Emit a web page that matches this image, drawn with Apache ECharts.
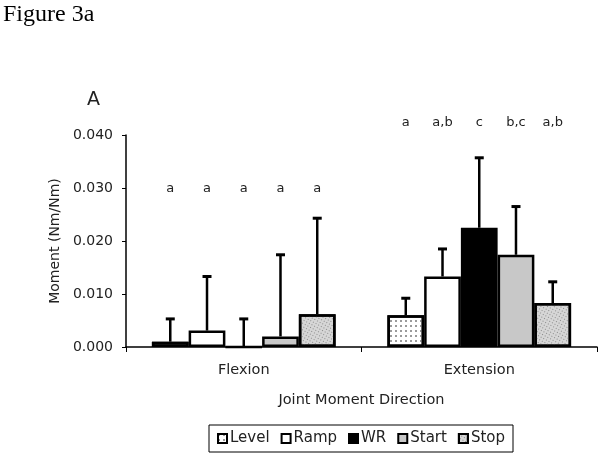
<!DOCTYPE html>
<html>
<head>
<meta charset="utf-8">
<script src="https://cdn.jsdelivr.net/npm/echarts@6/dist/echarts.min.js"></script>
<style>html,body{margin:0;padding:0;background:#fff;}#chart{width:603px;height:456px;}</style>
</head>
<body>
<div id="chart"></div>
<script>
const categories = ['Flexion', 'Extension'];
const seriesNames = ['Level', 'Ramp', 'WR', 'Start', 'Stop'];
const levelMean = [0.0010, 0.0060];
const rampMean = [0.0031, 0.0133];
const wrMean = [0.0000, 0.0225];
const startMean = [0.0020, 0.0174];
const stopMean = [0.0062, 0.0083];
const levelErrTop = [0.0053, 0.0092];
const rampErrTop = [0.0133, 0.0185];
const wrErrTop = [0.0053, 0.0357];
const startErrTop = [0.0174, 0.0265];
const stopErrTop = [0.0243, 0.0123];
const levelLetters = ['a', 'a'];
const rampLetters = ['a', 'a,b'];
const wrLetters = ['a', 'c'];
const startLetters = ['a', 'b,c'];
const stopLetters = ['a', 'a,b'];
const letterLevel = [0.0299, 0.0423];
const yTicks = ['0.000', '0.010', '0.020', '0.030', '0.040'];

const means = [levelMean, rampMean, wrMean, startMean, stopMean];
const errTops = [levelErrTop, rampErrTop, wrErrTop, startErrTop, stopErrTop];
const letters = [levelLetters, rampLetters, wrLetters, startLetters, stopLetters];

const CAT_GAP = 0.22;
const FONT = '"DejaVu Sans", "Liberation Sans", Arial, sans-serif';

const styles = [
  { color: '#ffffff', decal: { symbol: 'rect', symbolSize: 1, color: '#9a9a9a', dashArrayX: [1.5, 2.5], dashArrayY: [1.5, 2.5] } },
  { color: '#ffffff' },
  { color: '#000000' },
  { color: '#c8c8c8' },
  { color: '#d6d6d6', decal: { symbol: 'rect', symbolSize: 1, color: '#8a8a8a', dashArrayX: [1, 2], dashArrayY: [1, 2], rotation: 0.5 } }
];

const series = [];
seriesNames.forEach((name, i) => {
  const st = styles[i];
  const itemStyle = { color: st.color, borderColor: '#000', borderWidth: 2.5 };
  if (st.decal) itemStyle.decal = st.decal;
  series.push({
    name: name, type: 'bar', data: means[i],
    barGap: '0%', barCategoryGap: (CAT_GAP * 100) + '%',
    itemStyle: itemStyle, emphasis: { disabled: true }, z: 2
  });
});
seriesNames.forEach((name, i) => {
  series.push({
    name: name + ' err', type: 'custom', z: 5, silent: true,
    data: categories.map((c, k) => [k, errTops[i][k], means[i][k], letterLevel[k]]),
    renderItem: function (params, api) {
      const k = api.value(0);
      const top = api.coord([k, api.value(1)]);
      const base = api.coord([k, api.value(2)]);
      const lt = api.coord([k, api.value(3)]);
      const band = api.size([1, 0])[0];
      const groupW = band * (1 - CAT_GAP);
      const barW = groupW / seriesNames.length;
      const x = top[0] - groupW / 2 + (i + 0.5) * barW;
      return {
        type: 'group',
        children: [
          { type: 'line', shape: { x1: x, y1: base[1], x2: x, y2: top[1] }, style: { stroke: '#000', lineWidth: 2.5 } },
          { type: 'line', shape: { x1: x - 4.5, y1: top[1], x2: x + 4.5, y2: top[1] }, style: { stroke: '#000', lineWidth: 3 } },
          { type: 'text', x: x, y: lt[1], style: { text: letters[i][params.dataIndex], font: '13px ' + FONT, fill: '#222', align: 'center', verticalAlign: 'middle' } }
        ]
      };
    }
  });
});

const chart = echarts.init(document.getElementById('chart'), null, { renderer: 'canvas' });
chart.setOption({
  animation: false,
  backgroundColor: '#fff',
  textStyle: { fontFamily: FONT },
  graphic: [
    { type: 'text', left: 3, top: 3, style: { text: 'Figure 3a', font: '24px "Liberation Serif", "Times New Roman", serif', fill: '#000' } },
    { type: 'text', left: 87, top: 91, style: { text: 'A', font: '19px ' + FONT, fill: '#222' } }
  ],
  grid: { left: 126, right: 6, top: 135, bottom: 109, containLabel: false },
  legend: {
    data: seriesNames,
    bottom: 4, left: 209,
    itemWidth: 9, itemHeight: 9, itemGap: 11,
    icon: 'rect',
    borderColor: '#000', borderWidth: 1, padding: [6, 8],
    textStyle: { fontSize: 15, color: '#222', fontFamily: FONT, padding: [0, 0, 0, -2] },
    itemStyle: { borderColor: '#000', borderWidth: 2 },
    selectedMode: false
  },
  xAxis: {
    type: 'category', data: categories,
    name: 'Joint Moment Direction', nameLocation: 'middle', nameGap: 46,
    nameTextStyle: { fontSize: 14.5, color: '#222', fontFamily: FONT },
    axisLine: { lineStyle: { color: '#000', width: 1.5 } },
    axisTick: { show: true, length: 5, lineStyle: { color: '#000' } },
    axisLabel: { fontSize: 14.5, color: '#222', margin: 16, fontFamily: FONT }
  },
  yAxis: {
    type: 'value', min: 0, max: 0.04, interval: 0.01,
    name: 'Moment (Nm/Nm)', nameLocation: 'middle', nameGap: 62,
    nameTextStyle: { fontSize: 14, color: '#222', fontFamily: FONT },
    axisLine: { show: true, lineStyle: { color: '#000', width: 1.5 } },
    axisTick: { show: true, length: 4, lineStyle: { color: '#000' } },
    splitLine: { show: false },
    axisLabel: { fontSize: 14, color: '#222', margin: 13, fontFamily: FONT, formatter: (v) => yTicks[Math.round(v / 0.01)] }
  },
  series: series
});
</script>
</body>
</html>
